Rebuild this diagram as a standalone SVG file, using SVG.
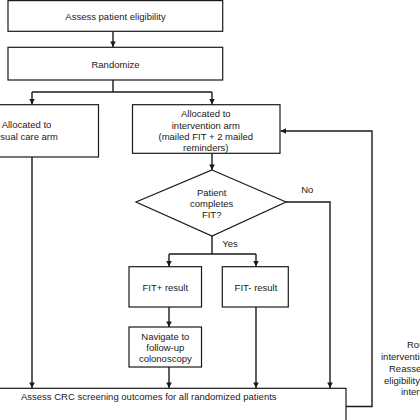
<svg xmlns="http://www.w3.org/2000/svg" width="420" height="420" viewBox="0 0 420 420">
<defs>
<marker id="arr" viewBox="0 0 10 10" refX="10" refY="5" markerWidth="4" markerHeight="4" orient="auto" markerUnits="strokeWidth">
<path d="M0,0 L10,5 L0,10 z" fill="#1a1a1a"/>
</marker>
<style>
.box{fill:#fff;stroke:#1a1a1a;stroke-width:1.2}
.t{font-family:"Liberation Sans",Arial,sans-serif;font-size:9.5px;fill:#1a1a1a;text-anchor:middle}
.s{text-anchor:start}
.c{fill:none;stroke:#1a1a1a;stroke-width:1.4}
.a{marker-end:url(#arr)}
</style>
</defs>
<rect width="420" height="420" fill="#fff"/>
<g id="connectors">
<path class="c a" d="M113,31.5 V47"/>
<path class="c" d="M113,80 V92 M32,92 H212"/>
<path class="c a" d="M32,92 V104.5"/>
<path class="c a" d="M212,92 V104.5"/>
<path class="c a" d="M212,153.5 V170"/>
<path class="c" d="M212,236 V254 M169,254 H256"/>
<path class="c a" d="M169,254 V266.5"/>
<path class="c a" d="M256,254 V266.5"/>
<path class="c a" d="M169,307 V327"/>
<path class="c a" d="M169,367 V388"/>
<path class="c a" d="M256,307 V388"/>
<path class="c a" d="M32,157 V388"/>
<path class="c a" d="M286,202 H330 V388"/>
<path class="c a" d="M346,406.5 H372 V131 H280.5"/>
</g>
<g id="n1"><rect class="box" x="8" y="0.6" width="214.7" height="30.7"/><text class="t" x="115.5" y="19.5">Assess patient eligibility</text></g>
<g id="n2"><rect class="box" x="8" y="47.3" width="214.7" height="32.7"/><text class="t" x="115.5" y="67.5">Randomize</text></g>
<g id="n3"><rect class="box" x="-45" y="104.7" width="143.5" height="52.3"/><text class="t" x="26.5" y="128.4">Allocated to</text><text class="t" x="26.5" y="140">usual care arm</text></g>
<g id="n4"><rect class="box" x="132.5" y="104.7" width="147.5" height="48.6"/><text class="t" x="205.8" y="116.7">Allocated to</text><text class="t" x="205.8" y="128.6">intervention arm</text><text class="t" x="205.8" y="139.8">(mailed FIT + 2 mailed</text><text class="t" x="205.8" y="150.8">reminders)</text></g>
<g id="n5"><polygon class="box" points="212,170 286,202 212,236 136,202"/><text class="t" x="211.7" y="195.7">Patient</text><text class="t" x="211.7" y="206.8">completes</text><text class="t" x="211.7" y="217.6">FIT?</text></g>
<g id="n6"><rect class="box" x="129" y="266.7" width="72.5" height="40.3"/><text class="t" x="165.3" y="290.6">FIT+ result</text></g>
<g id="n7"><rect class="box" x="222.3" y="266.7" width="66" height="40.3"/><text class="t" x="256" y="290.6">FIT- result</text></g>
<g id="n8"><rect class="box" x="129" y="327" width="72.5" height="40"/><text class="t" x="165.3" y="339.5">Navigate to</text><text class="t" x="165.3" y="350.8">follow-up</text><text class="t" x="165.3" y="362">colonoscopy</text></g>
<g id="n9"><rect class="box" x="-10" y="388.3" width="356" height="40"/><text class="t s" x="21" y="399.5">Assess CRC screening outcomes for all randomized patients</text></g>
<g id="labels">
<text class="t" x="307.3" y="192.5">No</text>
<text class="t" x="230" y="246.5">Yes</text>
<text class="t s" x="407" y="348.4">Round</text>
<text class="t s" x="381" y="360.2">intervention</text>
<text class="t s" x="389" y="372">Reassess</text>
<text class="t s" x="384" y="383.5">eligibility for</text>
<text class="t s" x="401" y="395.3">intervention</text>
</g>
</svg>
